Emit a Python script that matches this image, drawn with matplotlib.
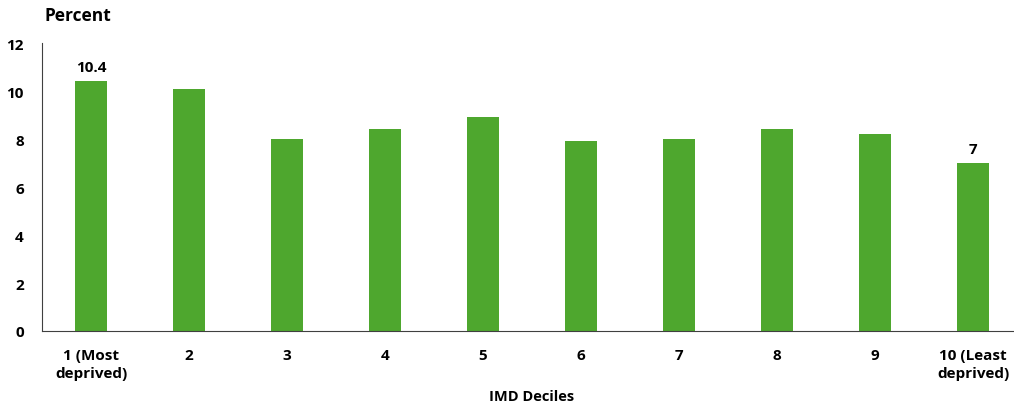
import matplotlib.pyplot as plt

# Данные: доля по децилям IMD
categories = ['1 (Most\ndeprived)', '2', '3', '4', '5', '6', '7', '8', '9', '10 (Least\ndeprived)']
values = [10.4, 10.1, 8.0, 8.4, 8.9, 7.9, 8.0, 8.4, 8.2, 7.0]
labelled = {0: '10.4', 9: '7'}

plt.rcParams['font.family'] = ['Open Sans', 'DejaVu Sans']
plt.rcParams['font.weight'] = 'bold'

fig = plt.figure(figsize=(10.14, 4.06), dpi=100)
ax = fig.add_axes([42 / 1014, 74 / 406, 980 / 1014, 288 / 406])

x = list(range(len(values)))
bars = ax.bar(x, values, width=0.33, color='#4EA72E')

# Подписи значений только у крайних столбцов
for i, txt in labelled.items():
    ax.text(i, values[i] + 0.3, txt, ha='center', va='bottom', fontsize=11, fontweight='bold')

ax.set_xlim(-0.5, 9.5)
ax.set_ylim(0, 12)
ax.set_yticks([0, 2, 4, 6, 8, 10, 12])
ax.set_xticks(x)
ax.set_xticklabels(categories, fontsize=11, fontweight='bold', linespacing=1.35)
ax.tick_params(axis='both', length=0, labelsize=11)
ax.tick_params(axis='x', pad=12)
ax.tick_params(axis='y', pad=13)
for lbl in ax.get_yticklabels():
    lbl.set_fontweight('bold')

for s in ['top', 'right']:
    ax.spines[s].set_visible(False)
ax.spines['left'].set_color('#404040')
ax.spines['bottom'].set_color('#404040')

fig.text(532 / 1014, 1 - 397 / 406, 'IMD Deciles', fontsize=10.5, fontweight='bold', va='center', ha='center')
fig.text(45 / 1014, 1 - 16 / 406, 'Percent', fontsize=12.5, fontweight='bold', va='center', ha='left')

fig.savefig('out.png', dpi=100)
